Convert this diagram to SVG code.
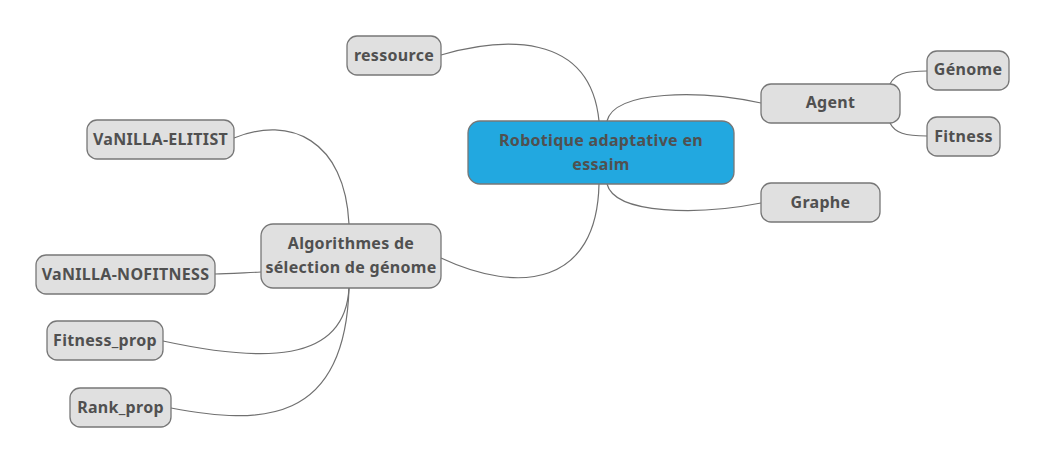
<svg xmlns="http://www.w3.org/2000/svg" width="1047" height="465" viewBox="0 0 1047 465">
<style>
.n rect{fill:#e0e0e0;stroke:#777;stroke-width:1.3}
.n.c rect{fill:#22a8e0}
text{font-family:"Noto Sans","Open Sans",sans-serif;font-weight:bold;font-size:16px;letter-spacing:0.3px;fill:#505050;text-anchor:middle}
.e path{fill:none;stroke:#707070;stroke-width:1.2}
</style>
<rect width="1047" height="465" fill="#fff"/>
<g class="e">
<path d="M441,55 C500,38 590,30 599,121"/>
<path d="M607,121 C615,90 700,90 761,103"/>
<path d="M607,184 C615,215 700,215 761,203"/>
<path d="M441,258 C520,295 597,285 599,184"/>
<path d="M890,84 C895,74 905,71 927,71"/>
<path d="M890,123 C895,133 905,136 927,136"/>
<path d="M349,224 C345,140 290,115 234,138"/>
<path d="M261,272 C240,273 225,274 215,274"/>
<path d="M349,288 C345,365 260,362 163,341"/>
<path d="M349,288 C345,425 260,425 171,408"/>
</g>
<g id="root" class="n c"><rect x="468" y="121" width="266" height="63" rx="12"/><text x="601" y="146">Robotique adaptative en</text><text x="601" y="170">essaim</text></g>
<g id="ressource" class="n"><rect x="347" y="36" width="94" height="39" rx="10"/><text x="394" y="61">ressource</text></g>
<g id="agent" class="n"><rect x="761" y="84" width="139" height="39" rx="10"/><text x="830.5" y="108">Agent</text></g>
<g id="genome" class="n"><rect x="927" y="51" width="82" height="39" rx="10"/><text x="968" y="75">Génome</text></g>
<g id="fitness" class="n"><rect x="927" y="117" width="73" height="39" rx="10"/><text x="963.5" y="142">Fitness</text></g>
<g id="graphe" class="n"><rect x="761" y="183" width="119" height="39" rx="10"/><text x="820.5" y="208">Graphe</text></g>
<g id="algo" class="n"><rect x="261" y="224" width="180" height="64" rx="12"/><text x="351" y="249">Algorithmes de</text><text x="351" y="273">sélection de génome</text></g>
<g id="elitist" class="n"><rect x="87" y="120" width="147" height="39" rx="10"/><text x="160.5" y="145">VaNILLA-ELITIST</text></g>
<g id="nofitness" class="n"><rect x="36" y="255" width="179" height="39" rx="10"/><text x="125.5" y="280">VaNILLA-NOFITNESS</text></g>
<g id="fitprop" class="n"><rect x="47" y="321" width="116" height="39" rx="10"/><text x="105" y="346">Fitness_prop</text></g>
<g id="rankprop" class="n"><rect x="70" y="388" width="101" height="39" rx="10"/><text x="120.5" y="413">Rank_prop</text></g>
</svg>
